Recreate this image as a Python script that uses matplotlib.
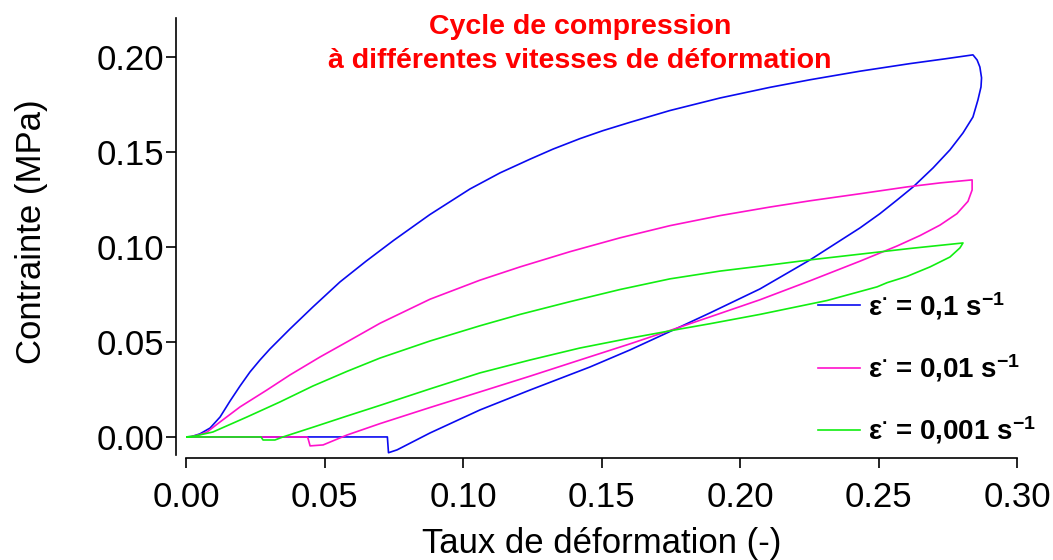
import matplotlib
matplotlib.use('Agg')
import matplotlib.pyplot as plt

#fonts (Arial look-alike)
plt.rcParams['font.family'] = ['Liberation Sans', 'DejaVu Sans']
plt.rcParams['mathtext.fontset'] = 'custom'
plt.rcParams['mathtext.rm'] = 'Liberation Sans'
plt.rcParams['mathtext.bf'] = 'Liberation Sans:bold'
plt.rcParams['mathtext.default'] = 'bf'

#strain / stress (loading, tip, unloading, back to zero)
strain_01 = [0, 0.002, 0.005, 0.0087, 0.0123, 0.0159, 0.0195, 0.0231, 0.0267, 0.0303,
             0.0375, 0.0458, 0.0556, 0.065, 0.075, 0.088, 0.1025, 0.1134, 0.1242, 0.1325,
             0.1422, 0.1505, 0.1603, 0.1747, 0.1928, 0.2108, 0.2253, 0.2433, 0.2614, 0.2740,
             0.2841, 0.2856, 0.2866, 0.2872, 0.2870, 0.2859, 0.2841, 0.2805, 0.2758, 0.2697,
             0.2625, 0.2567, 0.2505, 0.2433, 0.2253, 0.2072, 0.1892, 0.1783, 0.1603, 0.1458,
             0.1242, 0.1061, 0.0881, 0.0762, 0.0731, 0.0727, 0]
stress_01 = [0, 0.0002, 0.0016, 0.0047, 0.0105, 0.0189, 0.0268, 0.0342, 0.0405, 0.0463,
             0.0568, 0.0684, 0.0816, 0.0925, 0.1035, 0.1170, 0.1305, 0.1390, 0.1462, 0.1515,
             0.1570, 0.1612, 0.1656, 0.1718, 0.1784, 0.1840, 0.1880, 0.1925, 0.1965, 0.1990,
             0.2011, 0.1984, 0.1947, 0.1890, 0.1842, 0.1774, 0.1684, 0.1600, 0.1511, 0.1416,
             0.1316, 0.1247, 0.1175, 0.1100, 0.0932, 0.0779, 0.0653, 0.0579, 0.0458, 0.0368,
             0.0247, 0.0142, 0.0021, -0.0068, -0.0083, 0, 0]

strain_001 = [0, 0.0014, 0.0051, 0.0076, 0.0123, 0.0195, 0.0292, 0.0375, 0.0484, 0.0581,
              0.0700, 0.0881, 0.1061, 0.1206, 0.1386, 0.1567, 0.1747, 0.1928, 0.2108, 0.2253,
              0.2433, 0.2603, 0.2722, 0.2838, 0.2838, 0.2823, 0.2783, 0.2722, 0.2650, 0.2567,
              0.2433, 0.2253, 0.2072, 0.1892, 0.1783, 0.1603, 0.1422, 0.1242, 0.1061, 0.0881,
              0.0700, 0.0581, 0.0495, 0.0448, 0.0440, 0.0437, 0]
stress_001 = [0, 0, 0.0013, 0.0026, 0.0079, 0.0158, 0.0247, 0.0326, 0.0421, 0.0500,
              0.0598, 0.0725, 0.0825, 0.0895, 0.0975, 0.1048, 0.1112, 0.1165, 0.1210, 0.1243,
              0.1280, 0.1316, 0.1337, 0.1353, 0.1300, 0.1240, 0.1175, 0.1115, 0.1060, 0.1005,
              0.0925, 0.0822, 0.0722, 0.0632, 0.0578, 0.0490, 0.0405, 0.0320, 0.0237, 0.0155,
              0.0070, 0.0010, -0.0042, -0.0047, -0.0005, 0, 0]

strain_0001 = [0, 0.0032, 0.0097, 0.0220, 0.0339, 0.0458, 0.0581, 0.0700, 0.0881, 0.1061,
               0.1206, 0.1386, 0.1567, 0.1747, 0.1928, 0.2108, 0.2253, 0.2433, 0.2614, 0.2805,
               0.2794, 0.2758, 0.2686, 0.2603, 0.2531, 0.2495, 0.2314, 0.2072, 0.1892, 0.1783,
               0.1603, 0.1422, 0.1242, 0.1061, 0.0881, 0.0700, 0.0581, 0.0458, 0.0350, 0.0321,
               0.0278, 0.0271, 0]
stress_0001 = [0, 0.0005, 0.0026, 0.0105, 0.0184, 0.0268, 0.0345, 0.0415, 0.0505, 0.0585,
               0.0645, 0.0712, 0.0776, 0.0832, 0.0873, 0.0905, 0.0932, 0.0962, 0.0992, 0.1021,
               0.0995, 0.0947, 0.0895, 0.0845, 0.0812, 0.0790, 0.0718, 0.0645, 0.0596, 0.0568,
               0.0520, 0.0468, 0.0405, 0.0337, 0.0253, 0.0166, 0.0110, 0.0051, 0, -0.0016,
               -0.0016, 0, 0]

labels = ['ε$^{\\bullet}$ = 0,1 s$^{-1}$',
          'ε$^{\\bullet}$ = 0,01 s$^{-1}$',
          'ε$^{\\bullet}$ = 0,001 s$^{-1}$']
colors = ['#0a0af0', '#ff11cc', '#11ee11']
xticks = [0.00, 0.05, 0.10, 0.15, 0.20, 0.25, 0.30]
yticks = [0.00, 0.05, 0.10, 0.15, 0.20]


def plotGraph():
    fig = plt.figure(figsize=(10.53, 5.6), dpi=100)
    ax = fig.add_axes([186/1053, 105/560, 831/1053, 437/560])

    ax.plot(strain_01, stress_01, color=colors[0], lw=1.2, label=labels[0])
    ax.plot(strain_001, stress_001, color=colors[1], lw=1.2, label=labels[1])
    ax.plot(strain_0001, stress_0001, color=colors[2], lw=1.2, label=labels[2])

    ax.set_xlim(0, 0.30)
    ax.set_ylim(-0.0095, 0.2205)

    #igor style axes: detached left and bottom lines
    for side in ['top', 'right']:
        ax.spines[side].set_visible(False)
    ax.spines['left'].set_position(('outward', 7.2))
    ax.spines['bottom'].set_position(('outward', 2.2))
    ax.spines['left'].set_linewidth(1.2)
    ax.spines['bottom'].set_linewidth(1.2)

    ax.set_xticks(xticks)
    ax.set_yticks(yticks)
    ax.set_xticklabels(['%.2f' % v for v in xticks])
    ax.set_yticklabels(['%.2f' % v for v in yticks])
    ax.tick_params(axis='both', direction='out', length=7.5, width=1.2, labelsize=25)
    ax.tick_params(axis='y', pad=1)
    ax.tick_params(axis='x', pad=9)

    ax.set_xlabel('Taux de déformation (-)', fontsize=25)
    ax.set_ylabel('Contrainte (MPa)', fontsize=25)
    ax.xaxis.set_label_coords(0.5, -0.165)
    ax.yaxis.set_label_coords(-0.166, 0.51)

    fig.text(580/1053, 1 - 44/560, 'Cycle de compression\nà différentes vitesses de déformation',
             color='#ff0000', fontsize=20.5, fontweight='bold', ha='center', va='center',
             linespacing=1.36)

    ax.legend(loc='center left', bbox_to_anchor=(818/1053, 1 - 368/560),
              bbox_transform=fig.transFigure, frameon=False, borderpad=0,
              borderaxespad=0, handlelength=1.5, handletextpad=0.3, labelspacing=1.1,
              prop={'weight': 'bold', 'size': 20})

    fig.savefig('out.png', dpi=100)


plotGraph()
